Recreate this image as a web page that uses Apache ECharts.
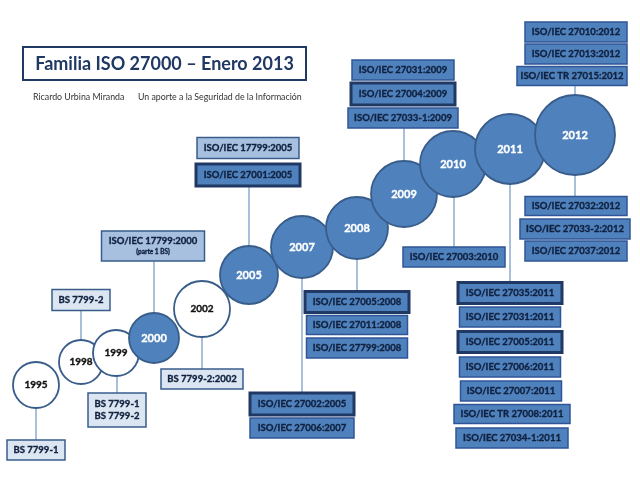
<!DOCTYPE html>
<html lang="es">
  <head>
    <meta charset="UTF-8" />
    <title>Familia ISO 27000</title>
    <script src="https://cdn.jsdelivr.net/npm/echarts@6/dist/echarts.min.js"></script>
    <style>
      html, body { margin: 0; padding: 0; background: #fff; }
    </style>
  </head>
  <body>
    <div id="main" style="width: 640px; height: 480px"></div>
    <script>
      // años (círculos de la línea de tiempo)
      var years = ["1995", "1998", "1999", "2000", "2002", "2005", "2007", "2008", "2009", "2010", "2011", "2012"];
      var yearX = [36, 81, 116, 154, 202, 249, 302, 357, 404, 453, 510, 575];
      var yearY = [385, 362, 353, 338, 309, 275, 247, 228, 194, 164, 149, 135];
      var yearR = [23, 22, 23, 25, 28, 29, 31, 31, 33, 33, 35, 40];
      var yearFilled = [0, 0, 0, 1, 0, 1, 1, 1, 1, 1, 1, 1];

      // normas (cajas)
      var boxText = [
        "BS 7799-1", "BS 7799-2", "BS 7799-1\nBS 7799-2", "ISO/IEC 17799:2000\n{s|(parte 1 BS)}",
        "BS 7799-2:2002", "ISO/IEC 17799:2005", "ISO/IEC 27001:2005",
        "ISO/IEC 27002:2005", "ISO/IEC 27006:2007",
        "ISO/IEC 27005:2008", "ISO/IEC 27011:2008", "ISO/IEC 27799:2008",
        "ISO/IEC 27031:2009", "ISO/IEC 27004:2009", "ISO/IEC 27033-1:2009",
        "ISO/IEC 27003:2010",
        "ISO/IEC 27035:2011", "ISO/IEC 27031:2011", "ISO/IEC 27005:2011", "ISO/IEC 27006:2011",
        "ISO/IEC 27007:2011", "ISO/IEC TR 27008:2011", "ISO/IEC 27034-1:2011",
        "ISO/IEC 27010:2012", "ISO/IEC 27013:2012", "ISO/IEC TR 27015:2012",
        "ISO/IEC 27032:2012", "ISO/IEC 27033-2:2012", "ISO/IEC 27037:2012"
      ];
      var boxX = [36, 81, 117, 153, 202, 248, 248, 302, 302, 357, 357, 357, 403, 403, 403, 454,
        510, 510, 510, 510, 511, 512, 512, 576, 576, 572, 576, 575, 576];
      var boxY = [450, 300, 410, 246, 379, 148, 175, 404, 428, 302, 325, 348, 70, 94, 118, 257,
        293, 317, 342, 367, 391, 414, 438, 32, 54, 76, 206, 229, 251];
      var boxW = [58, 58, 58, 103, 82, 102, 104, 104, 104, 104, 101, 101, 102, 104, 110, 102,
        104, 101, 104, 101, 101, 116, 112, 102, 102, 110, 102, 110, 102];
      var boxH = [20, 21, 34, 30, 20, 21, 22, 22, 20, 21, 19, 20, 20, 22, 20, 20,
        21, 20, 21, 20, 20, 19, 20, 20, 20, 19, 19, 20, 20];
      // 0 claro, 1 medio, 2 azul, 3 azul destacado
      var boxKind = [0, 0, 0, 1, 0, 1, 3, 3, 2, 3, 2, 2, 2, 3, 2, 2,
        3, 2, 3, 2, 2, 2, 2, 2, 2, 2, 2, 2, 2];

      // conectores: x, y inicio, y fin
      var connX = [36, 81, 117, 154, 202, 249, 302, 357, 404, 454, 510, 575, 575];
      var connY1 = [408, 310, 376, 261, 336, 186, 277, 258, 128, 197, 184, 86, 175];
      var connY2 = [440, 340, 393, 313, 369, 247, 393, 292, 161, 247, 283, 95, 197];

      var FONT = "Lato, 'Open Sans', sans-serif";
      var INK = "#10213f";
      var kindFill = ["#dce6f2", "#a7c0e0", "#4f81bd", "#4f81bd"];
      var kindBorder = ["#385d8a", "#385d8a", "#2f5597", "#1f3864"];
      var kindBorderW = [1.5, 1.5, 1.5, 3];

      var circleData = years.map(function (y, i) {
        var f = yearFilled[i];
        return {
          name: y,
          value: [yearX[i], yearY[i]],
          symbolSize: yearR[i] * 2,
          itemStyle: {
            color: f ? "#4f81bd" : "#ffffff",
            borderColor: "#385d8a",
            borderWidth: 1.8,
            opacity: 1,
          },
          label: {
            color: f ? "#ffffff" : "#111111",
            textBorderColor: f ? "#ffffff" : "#111111",
            textBorderWidth: 0.35,
            fontSize: f ? 11 : 10,
          },
        };
      });

      var boxData = boxText.map(function (t, i) {
        return [boxX[i], boxY[i], boxW[i], boxH[i], boxKind[i], i];
      });

      var connData = connX.map(function (x, i) {
        return { coords: [[x, connY1[i]], [x, connY2[i]]] };
      });

      // caja rectangular con texto centrado
      function renderBox(params, api) {
        var c = api.coord([api.value(0), api.value(1)]);
        var s = api.size([api.value(2), api.value(3)]);
        var k = api.value(4);
        var i = api.value(5);
        return {
          type: "rect",
          shape: { x: c[0] - s[0] / 2, y: c[1] - s[1] / 2, width: s[0], height: s[1] },
          style: {
            fill: kindFill[k],
            stroke: kindBorder[k],
            lineWidth: kindBorderW[k],
          },
          textContent: {
            style: {
              text: boxText[i],
              fontFamily: FONT, fontWeight: "bold", fontSize: 9.5,
              fill: INK, stroke: INK, lineWidth: 0.35,
              lineHeight: 12, align: "center",
              rich: { s: { fontSize: 6.5, fontFamily: FONT, fontWeight: "bold", fill: INK, lineHeight: 10 } },
            },
          },
          textConfig: { position: "inside" },
        };
      }

      var myChart = echarts.init(document.getElementById("main"));
      var option = {
        animation: false,
        backgroundColor: "#ffffff",
        grid: { left: 0, right: 0, top: 0, bottom: 0 },
        xAxis: { type: "value", min: 0, max: 640, show: false },
        yAxis: { type: "value", min: 0, max: 480, inverse: true, show: false },
        graphic: [
          {
            type: "rect",
            shape: { x: 23, y: 47, width: 283, height: 33 },
            style: { fill: "#ffffff", stroke: "#1f3864", lineWidth: 2 },
          },
          {
            type: "text",
            x: 164.5, y: 64,
            style: {
              text: "Familia ISO 27000 – Enero 2013",
              fontFamily: FONT, fontSize: 18, fontWeight: "bold",
              fill: "#1f3864", align: "center", verticalAlign: "middle",
            },
          },
          {
            type: "text",
            x: 33, y: 97,
            style: {
              text: "Ricardo Urbina Miranda",
              fontFamily: FONT, fontSize: 8.8, fill: "#333333", verticalAlign: "middle",
            },
          },
          {
            type: "text",
            x: 138, y: 97,
            style: {
              text: "Un aporte a la Seguridad de la Información",
              fontFamily: FONT, fontSize: 8.8, fill: "#333333", verticalAlign: "middle",
            },
          },
        ],
        series: [
          {
            type: "lines",
            coordinateSystem: "cartesian2d",
            data: connData,
            lineStyle: { color: "#8eaacc", width: 1.5, opacity: 1 },
            z: 1,
          },
          {
            type: "scatter",
            data: circleData,
            symbol: "circle",
            label: {
              show: true, position: "inside", formatter: "{b}",
              fontFamily: FONT, fontWeight: "bold",
            },
            emphasis: { disabled: true },
            z: 2,
          },
          {
            type: "custom",
            coordinateSystem: "cartesian2d",
            data: boxData,
            renderItem: renderBox,
            emphasis: { disabled: true },
            z: 3,
          },
        ],
      };
      myChart.setOption(option);
    </script>
  </body>
</html>
